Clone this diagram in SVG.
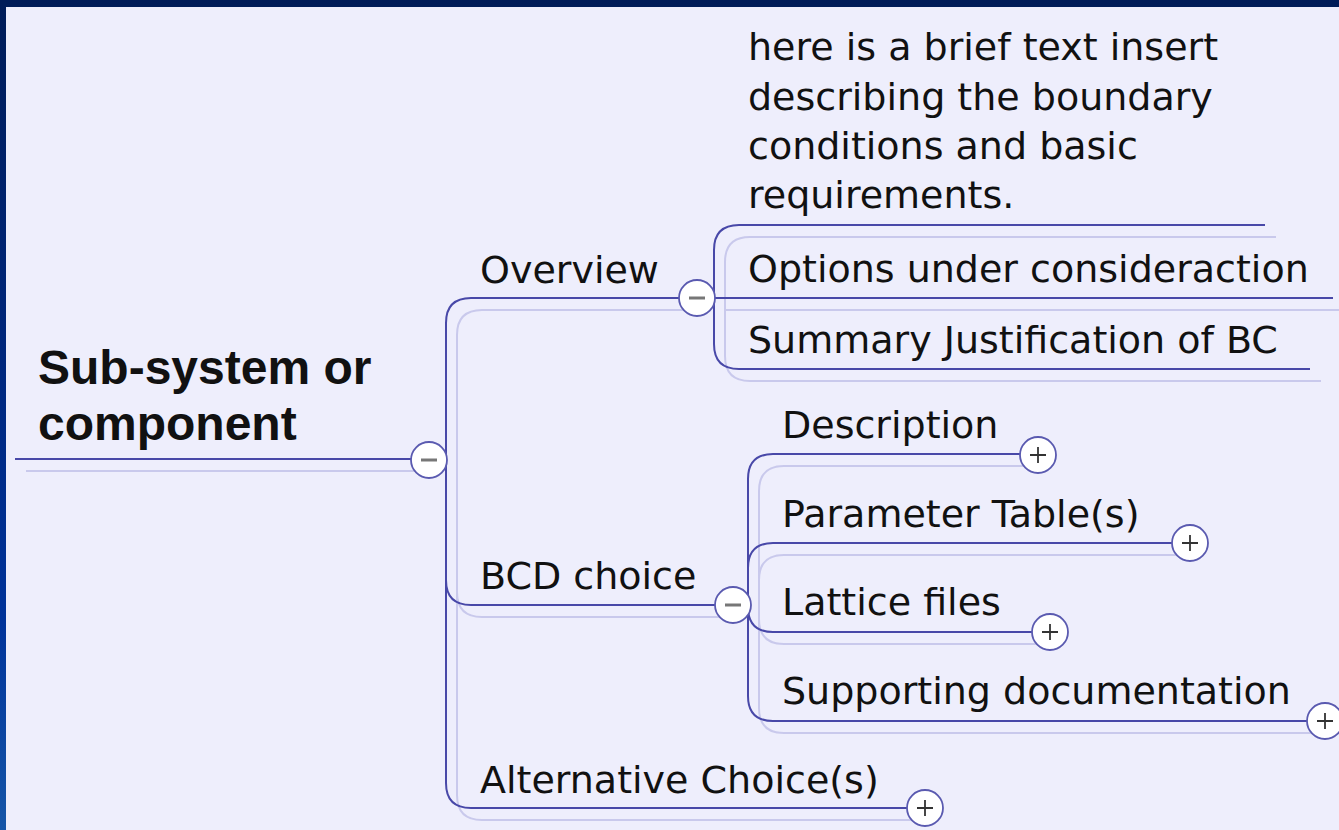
<svg xmlns="http://www.w3.org/2000/svg" width="1339" height="830" viewBox="0 0 1339 830">
<defs>
<linearGradient id="bg" x1="0" y1="0" x2="0" y2="1">
<stop offset="0" stop-color="#001c58"/>
<stop offset="0.4" stop-color="#00267a"/>
<stop offset="0.75" stop-color="#00339a"/>
<stop offset="1" stop-color="#1656a8"/>
</linearGradient>
<style>
.t{font-family:"DejaVu Sans",Verdana,sans-serif;font-size:38px;fill:#111}
.root{font-family:"Liberation Sans",Arial,sans-serif;font-weight:bold;font-size:48px;fill:#111}
.m{fill:none;stroke:#4848a8;stroke-width:2}
.s{fill:none;stroke:#c9c9ec;stroke-width:2}
.c{fill:#fff;stroke:#5a5ab0;stroke-width:1.8}
.minus{stroke:#777;stroke-width:3}
.plus{stroke:#333;stroke-width:1.8}
</style>
</defs>
<rect x="0" y="0" width="1339" height="830" fill="url(#bg)"/>
<rect x="6" y="7" width="1333" height="823" fill="#eeeefc"/>
<g id="connectors">
<g transform="translate(11,12)" class="s">
<path d="M15,459 H412"/>
<path d="M680,298 H471 Q446,298 446,323 V783 Q446,808 471,808 H908"/>
<path d="M446,580 Q446,605 471,605 H716"/>
<path d="M1265,225 H739 Q714,225 714,250 V344 Q714,369 739,369 H1310"/>
<path d="M714,298 H1340"/>
<path d="M1021,454 H773 Q748,454 748,479 V696 Q748,721 773,721 H1308"/>
<path d="M748,568 Q748,543 773,543 H1173"/>
<path d="M748,607 Q748,632 773,632 H1033"/>
</g>
<g class="m">
<path d="M15,459 H412"/>
<path d="M680,298 H471 Q446,298 446,323 V783 Q446,808 471,808 H908"/>
<path d="M446,580 Q446,605 471,605 H716"/>
<path d="M1265,225 H739 Q714,225 714,250 V344 Q714,369 739,369 H1310"/>
<path d="M714,298 H1333"/>
<path d="M1021,454 H773 Q748,454 748,479 V696 Q748,721 773,721 H1308"/>
<path d="M748,568 Q748,543 773,543 H1173"/>
<path d="M748,607 Q748,632 773,632 H1033"/>
</g>
</g>
<g id="root">
<text class="root" x="38" y="384">Sub-system or</text>
<text class="root" x="38" y="440">component</text>
<circle class="c" cx="429" cy="460" r="18"/>
<line class="minus" x1="421" y1="460" x2="437" y2="460"/>
</g>
<g id="overview">
<text class="t" x="480" y="283">Overview</text>
<circle class="c" cx="697" cy="298" r="18"/>
<line class="minus" x1="689" y1="298" x2="705" y2="298"/>
</g>
<g id="note">
<text class="t" x="748" y="60">here is a brief text insert</text>
<text class="t" x="748" y="110">describing the boundary</text>
<text class="t" x="748" y="159">conditions and basic</text>
<text class="t" x="748" y="208">requirements.</text>
</g>
<g id="options"><text class="t" x="748" y="282">Options under consideraction</text></g>
<g id="summary"><text class="t" x="748" y="353">Summary Justification of BC</text></g>
<g id="bcd">
<text class="t" x="480" y="589">BCD choice</text>
<circle class="c" cx="733" cy="605" r="18"/>
<line class="minus" x1="725" y1="605" x2="741" y2="605"/>
</g>
<g id="description">
<text class="t" x="782" y="438">Description</text>
<circle class="c" cx="1038" cy="455" r="18"/>
<path class="plus" d="M1030,455 H1046 M1038,447 V463"/>
</g>
<g id="parameter">
<text class="t" x="782" y="527">Parameter Table(s)</text>
<circle class="c" cx="1190" cy="543" r="18"/>
<path class="plus" d="M1182,543 H1198 M1190,535 V551"/>
</g>
<g id="lattice">
<text class="t" x="782" y="615">Lattice files</text>
<circle class="c" cx="1050" cy="632" r="18"/>
<path class="plus" d="M1042,632 H1058 M1050,624 V640"/>
</g>
<g id="supporting">
<text class="t" x="782" y="704">Supporting documentation</text>
<circle class="c" cx="1325" cy="721" r="18"/>
<path class="plus" d="M1317,721 H1333 M1325,713 V729"/>
</g>
<g id="alternative">
<text class="t" x="480" y="793">Alternative Choice(s)</text>
<circle class="c" cx="925" cy="808" r="18"/>
<path class="plus" d="M917,808 H933 M925,800 V816"/>
</g>
</svg>
